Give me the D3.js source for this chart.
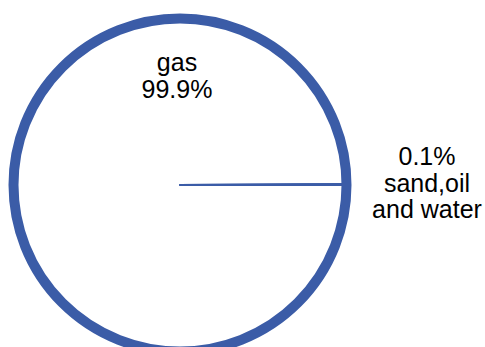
<!DOCTYPE html>
<html>
<head>
<meta charset="utf-8">
<script src="https://cdn.jsdelivr.net/npm/d3@7/dist/d3.min.js"></script>
<style>
  body, html { margin:0; padding:0; background:#fff; }
  svg { display:block; font-family:"Liberation Sans", Arial, sans-serif; }
</style>
</head>
<body>
<svg id="chart" width="485" height="347"></svg>
<script>
// data
var categories = ["gas", "sand,oil and water"];
var values = [99.9, 0.1];
var labels = [["gas", "99.9%"], ["0.1%", "sand,oil", "and water"]];

var blue = "#3b5ca7";
var cx = 180, cy = 185, r = 166.5;

var svg = d3.select("#chart");
var g = svg.append("g").attr("transform", "translate(" + cx + "," + cy + ")");

var pie = d3.pie()
    .sort(null)
    .startAngle(Math.PI / 2)
    .endAngle(Math.PI / 2 + 2 * Math.PI);

var arc = d3.arc().innerRadius(0).outerRadius(r);
var arcs = pie(values);

g.selectAll("path.slice")
  .data(arcs)
  .enter()
  .append("path")
  .attr("class", "slice")
  .attr("d", arc)
  .attr("fill", function(d, i){ return i == 0 ? "#fff" : blue; })
  .attr("stroke", blue)
  .attr("stroke-width", 2)
  .attr("stroke-linejoin", "round");

// thick outer border
g.append("circle")
  .attr("r", r)
  .attr("fill", "none")
  .attr("stroke", blue)
  .attr("stroke-width", 10);

// labels
var labelPos = [{x: 177, y: 71}, {x: 427, y: 165}];
var lh = 26.5;

labels.forEach(function(lines, i){
  var t = svg.append("text")
    .attr("text-anchor", "middle")
    .attr("font-size", 25)
    .attr("fill", "#000");
  lines.forEach(function(s, j){
    t.append("tspan")
      .attr("x", labelPos[i].x)
      .attr("y", labelPos[i].y + j * lh)
      .text(s);
  });
});
</script>
</body>
</html>
